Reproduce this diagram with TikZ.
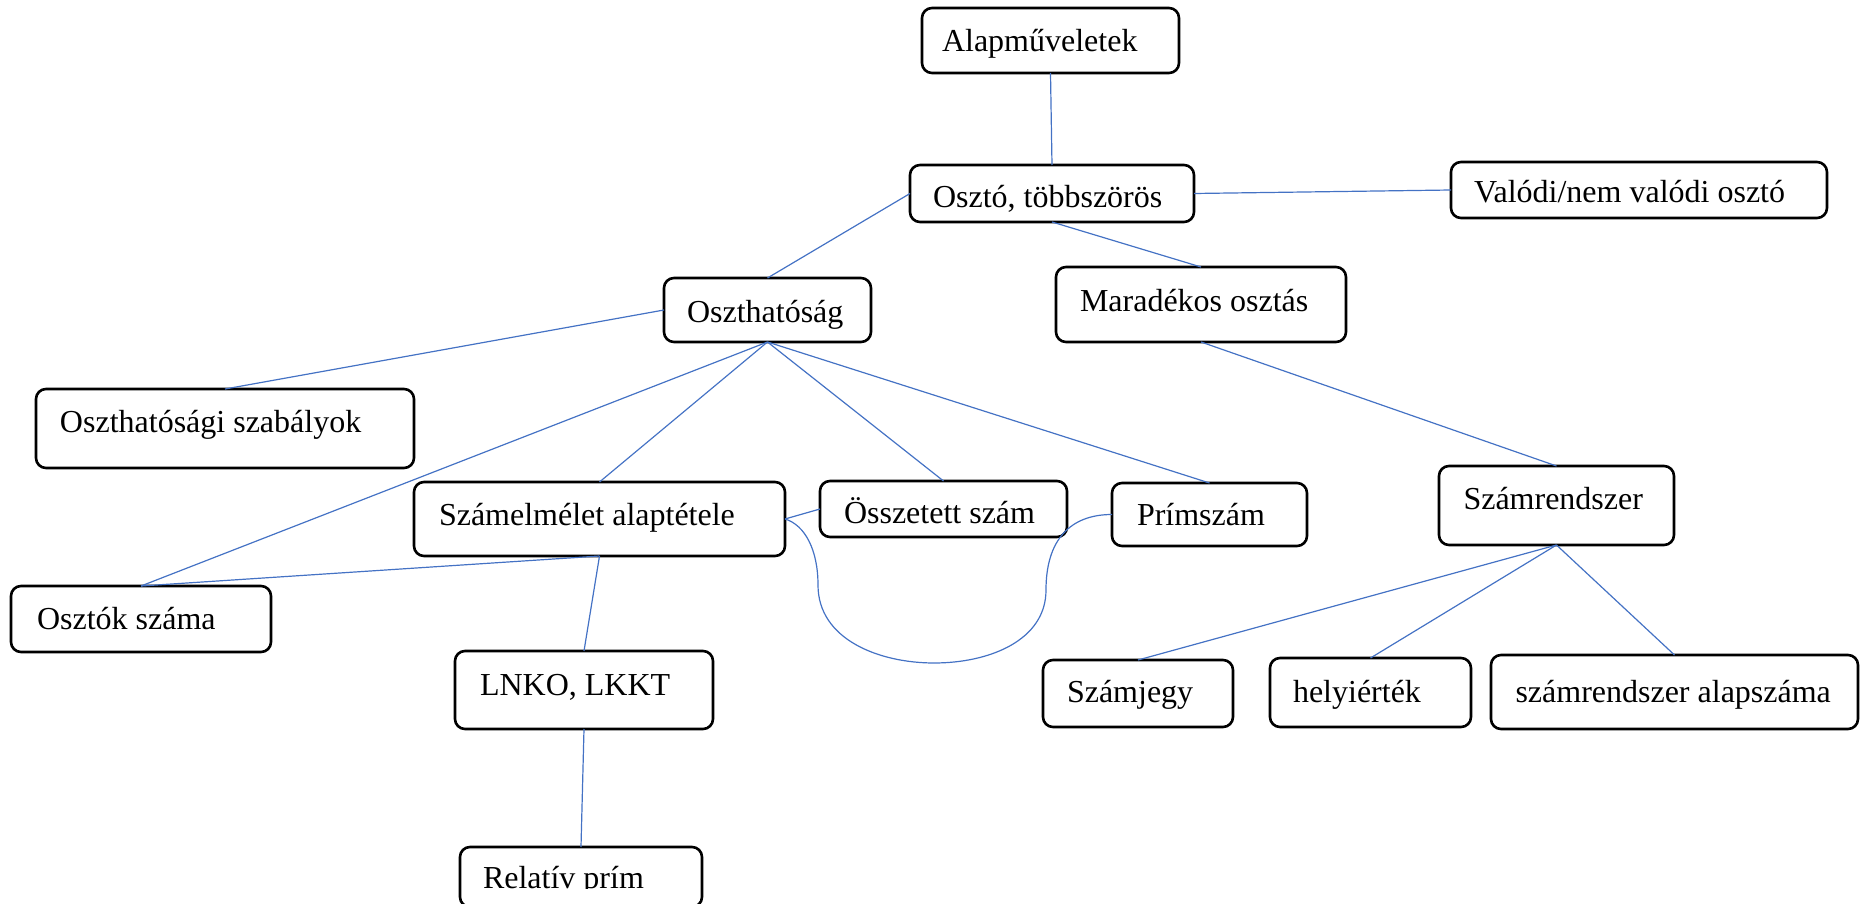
\documentclass[tikz,border=0pt]{standalone}
\usepackage{fontspec}
\setmainfont{Liberation Serif}
\definecolor{connblue}{HTML}{4472C4}
\tikzset{
  box/.style={draw=black, line width=1.3pt, rounded corners=5pt, inner sep=0pt, outer sep=0pt, fill=white},
  lbl/.style={anchor=base west, inner sep=0pt, outer sep=0pt, font=\fontsize{16pt}{19pt}\selectfont},
  conn/.style={draw=connblue, line width=0.6pt},
}
\begin{document}
\begin{tikzpicture}[x=0.5pt,y=-0.5pt]
\useasboundingbox (0,0) rectangle (1860,904);
% boxes
\node[box, minimum width=128.5pt, minimum height=32.5pt] (alap) at (1050.5,40.5) {};
\node[box, minimum width=142pt, minimum height=28.5pt] (oszto) at (1052,193.5) {};
\node[box, minimum width=188pt, minimum height=28pt] (valodi) at (1639,190) {};
\node[box, minimum width=103.5pt, minimum height=32pt] (oszth) at (767.5,310) {};
\node[box, minimum width=145pt, minimum height=37.5pt] (marad) at (1201,304.5) {};
\node[box, minimum width=189pt, minimum height=39.5pt] (szab) at (225,428.5) {};
\node[box, minimum width=185.5pt, minimum height=37pt] (szamelm) at (599.5,519) {};
\node[box, minimum width=123.5pt, minimum height=28pt] (ossz) at (943.5,509) {};
\node[box, minimum width=97.5pt, minimum height=31.5pt] (prim) at (1209.5,514.5) {};
\node[box, minimum width=117.5pt, minimum height=39.5pt] (szr) at (1556.5,505.5) {};
\node[box, minimum width=130pt, minimum height=33pt] (osztok) at (141,619) {};
\node[box, minimum width=129pt, minimum height=39pt] (lnko) at (584,690) {};
\node[box, minimum width=121pt, minimum height=30pt] (rel) at (581,877) {};
\node[box, minimum width=95pt, minimum height=33.5pt] (szj) at (1138,693.5) {};
\node[box, minimum width=100.5pt, minimum height=34.5pt] (hely) at (1370.5,692.5) {};
\node[box, minimum width=183.5pt, minimum height=37pt] (alapsz) at (1674.5,692) {};
% labels
\node[lbl] (t-alap) at (942,52) {Alapműveletek};
\node[lbl] (t-oszto) at (933,207) {Osztó, többszörös};
\node[lbl] (t-valodi) at (1474,203) {Valódi/nem valódi osztó};
\node[lbl] (t-oszth) at (687,322) {Oszthatóság};
\node[lbl] (t-marad) at (1080,311) {Maradékos osztás};
\node[lbl] (t-szab) at (60,432) {Oszthatósági szabályok};
\node[lbl] (t-szamelm) at (439,525) {Számelmélet alaptétele};
\node[lbl] (t-ossz) at (844,523) {Összetett szám};
\node[lbl] (t-prim) at (1137,525) {Prímszám};
\node[lbl] (t-szr) at (1463.5,509) {Számrendszer};
\node[lbl] (t-osztok) at (37,629) {Osztók száma};
\node[lbl] (t-lnko) at (480,695) {LNKO, LKKT};
\begin{scope}
\clip (455,840) rectangle (710,888.5);
\node[lbl] (t-rel) at (483,888) {Relatív prím};
\end{scope}
\node[lbl] (t-szj) at (1067,702) {Számjegy};
\node[lbl] (t-hely) at (1293,702) {helyiérték};
\node[lbl] (t-alapsz) at (1515.5,702) {számrendszer alapszáma};
% connectors
\draw[conn] (alap.south) -- (oszto.north);
\draw[conn] (oszto.east) -- (valodi.west);
\draw[conn] (oszto.west) -- (oszth.north);
\draw[conn] (oszto.south) -- (marad.north);
\draw[conn] (oszth.west) -- (szab.north);
\draw[conn] (oszth.south) -- (osztok.north);
\draw[conn] (oszth.south) -- (szamelm.north);
\draw[conn] (oszth.south) -- (ossz.north);
\draw[conn] (oszth.south) -- (prim.north);
\draw[conn] (szamelm.south) -- (osztok.north);
\draw[conn] (szamelm.south) -- (lnko.north);
\draw[conn] (lnko.south) -- (rel.north);
\draw[conn] (szamelm.east) -- (ossz.west);
\draw[conn] (szamelm.east) .. controls (805,525) and (818,550) .. (818,585)
  .. controls (818,640) and (880,663) .. (934,663)
  .. controls (990,663) and (1046,640) .. (1046,590)
  .. controls (1046,540) and (1070,514.5) .. (prim.west);
\draw[conn] (marad.south) -- (szr.north);
\draw[conn] (szr.south) -- (szj.north);
\draw[conn] (szr.south) -- (hely.north);
\draw[conn] (szr.south) -- (alapsz.north);
\end{tikzpicture}
\end{document}
